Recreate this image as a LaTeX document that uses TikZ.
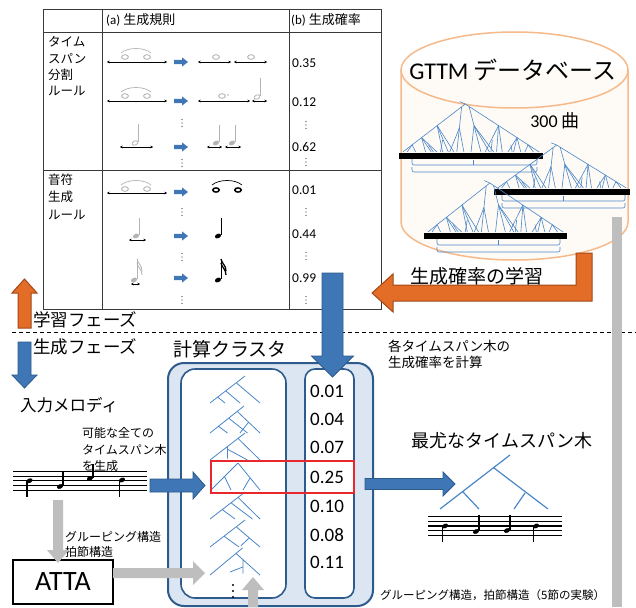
\documentclass[tikz,border=0pt]{standalone}
\usepackage{fontspec}
\setmainfont{Carlito}
\newfontfamily\jp{Noto Sans CJK JP}
\usetikzlibrary{arrows.meta}
\definecolor{barblue}{HTML}{3F76B6}
\definecolor{bardark}{HTML}{2D5B8C}
\definecolor{clfill}{HTML}{DCE6F2}
\definecolor{treeblue}{HTML}{4A87C9}
\definecolor{orangef}{HTML}{E36C26}
\definecolor{oranged}{HTML}{A04A18}
\definecolor{greyar}{HTML}{BEBEBE}
\definecolor{cylfill}{HTML}{FEFAF5}
\definecolor{cyledge}{HTML}{F6B98A}
\definecolor{redbox}{HTML}{E8282C}
\definecolor{notegrey}{HTML}{B4B4B4}
\definecolor{tblline}{HTML}{3A3A3A}

\newcommand{\hblock}[7]{\path[#1] ({#2},{#5-#6}) -- ({#4},{#5-#6}) -- ({#4},{#5-#7}) -- ({#3},{#5}) -- ({#4},{#5+#7}) -- ({#4},{#5+#6}) -- ({#2},{#5+#6}) -- cycle;}
\newcommand{\vblock}[7]{\path[#1] ({#2-#6},{#3}) -- ({#2+#6},{#3}) -- ({#2+#6},{#5}) -- ({#2+#7},{#5}) -- ({#2},{#4}) -- ({#2-#7},{#5}) -- ({#2-#6},{#5}) -- cycle;}
\newcommand{\tdots}[2]{\fill[tblline] ({#1},{#2-3.5}) circle[radius=0.55] ({#1},{#2}) circle[radius=0.55] ({#1},{#2+3.5}) circle[radius=0.55];}
\newcommand{\gwhole}[2]{\draw[notegrey, line width=0.9] ({#1},{#2}) ellipse[x radius=3.4, y radius=2.3];}
\newcommand{\bwhole}[2]{\draw[black, line width=1.5] ({#1},{#2}) ellipse[x radius=3.2, y radius=2.1];}
\newcommand{\tiearc}[4]{\draw[#1, line width=0.7] ({#2},{#4}) .. controls ({#2+7},{#4-6}) and ({#3-7},{#4-6}) .. ({#3},{#4});}
\newcommand{\nhead}[3]{\fill[#1, rotate around={25:({#2},{#3})}] ({#2},{#3}) ellipse[x radius=3.2, y radius=2.2];}
\newcommand{\hhead}[3]{\draw[#1, line width=0.8, rotate around={25:({#2},{#3})}] ({#2},{#3}) ellipse[x radius=3.1, y radius=2.0];}
\newcommand{\dbtree}[8]{%
\begin{scope}[shift={(#1,#2)}, xscale=#3, yscale=#4]
 \draw[tline] (0.46,0) -- (0.02,1) (0.46,0) -- (0.98,1) (0.434,0.06) -- (0.40,1) (0.486,0.05) -- (0.57,1) (0.46,0) -- (0.42,-0.05);
 \foreach \pu/\pv/\leaves in {0.262/0.45/{0.30,0.34,0.38}, 0.152/0.7/{0.18,0.22,0.26}, 0.086/0.85/{0.11,0.05},
    0.418/0.5/{0.35,0.45}, 0.521/0.45/{0.50,0.63,0.66}, 0.694/0.45/{0.60,0.68,0.72},
    0.824/0.7/{0.76,0.80,0.85}, 0.902/0.85/{0.88,0.94}}
   {\foreach \lu in \leaves {\draw[tline] (\pu,\pv) -- (\lu,1);}}
 \foreach \pu/\pv/\lu in {0.30/0.75/0.285, 0.20/0.85/0.235, 0.65/0.75/0.64, 0.78/0.85/0.79}
   {\draw[tline] (\pu,\pv) -- (\lu,1);}
\end{scope}
\draw[line width=5.5] ({#1-1},{#5}) -- ({#1+#3+1},{#5});
\draw[tline, rounded corners=2] ({#6},{#5+3}) -- ({#6},{#5+9}) -- ({#8},{#5+9}) -- ({#8},{#5+3});
\draw[tline] ({#7},{#5+9}) -- ({#7},{#5+4});
\draw[tline, rounded corners=2] ({#6},{#5+11}) -- ({#6},{#5+16}) -- ({#8},{#5+16}) -- ({#8},{#5+11});
}

\begin{document}
\begin{tikzpicture}[x=1pt, y=-1pt,
  jptext/.style={inner sep=0, font=\jp\fontsize{#1}{#1}\selectfont},
  lattext/.style={inner sep=0, font=\fontsize{#1}{#1}\selectfont},
  dbl/.style={{Stealth[length=2.6pt,width=2.6pt]}-{Stealth[length=2.6pt,width=2.6pt]}, line width=0.6},
  smallar/.style={fill=barblue},
  bluear/.style={fill=barblue, draw=bardark, line width=0.8},
  greyblock/.style={fill=greyar},
  orangear/.style={fill=orangef, draw=oranged, line width=1},
  tline/.style={draw=treeblue, line width=0.6},
  ctl/.style={draw=treeblue, line width=0.8},
]
\useasboundingbox (0,0) rectangle (636,607);
\fill[white] (0,0) rectangle (636,607);

% ---------------- table ----------------
\draw[tblline, line width=0.9] (43,9) rectangle (381,309);
\draw[tblline, line width=0.9] (102,9) -- (102,309) (289,9) -- (289,309) (43,32) -- (381,32) (43,170) -- (381,170);
\node[lattext=13, anchor=west] (ha) at (106,20) {(a) {\jp 生成規則}};
\node[lattext=13, anchor=west] (hb) at (291,20) {(b) {\jp 生成確率}};
\node[jptext=12.5, anchor=west] (r1a) at (48,42) {タイム};
\node[jptext=12.5, anchor=west] (r1b) at (48,59) {スパン};
\node[jptext=12.5, anchor=west] (r1c) at (48,75) {分割};
\node[jptext=12.5, anchor=west] (r1d) at (48,91) {ルール};
\node[jptext=12.5, anchor=west] (r2a) at (48,180) {音符};
\node[jptext=12.5, anchor=west] (r2b) at (48,197) {生成};
\node[jptext=12.5, anchor=west] (r2c) at (48,215) {ルール};
\foreach \val/\yy [count=\i] in {0.35/63,0.12/102,0.62/147,0.01/190,0.44/234,0.99/278}
  \node[lattext=13.5, anchor=west] (q\i) at (292,\yy) {\val};
\tdots{306}{125}\tdots{306}{162}\tdots{306}{212}\tdots{306}{256}\tdots{306}{300}
\tdots{182}{123}\tdots{182}{163}\tdots{182}{212}\tdots{182}{257}\tdots{182}{300}

% row 1
\draw[dbl] (107,62) -- (167,62);
\gwhole{125}{57}\gwhole{147}{57}\tiearc{notegrey}{121}{151}{53}
\hblock{smallar}{174}{188}{182}{62}{2.2}{4.6}
\draw[dbl] (198,62) -- (231,62); \draw[dbl] (234,62) -- (267,62);
\gwhole{216}{57}\gwhole{251}{57}
% row 2
\draw[dbl] (107,101) -- (167,101);
\gwhole{125}{96}\gwhole{147}{96}\tiearc{notegrey}{121}{151}{92}
\hblock{smallar}{174}{188}{182}{101}{2.2}{4.6}
\draw[dbl] (198,101) -- (250,101); \draw[dbl] (252,101) -- (267,101);
\gwhole{222}{96}\fill[notegrey] (228,95) circle[radius=0.8];
\hhead{notegrey}{257}{97}\draw[notegrey, line width=0.7] (260,96) -- (260,78);
% row 3
\draw[dbl] (120,147) -- (153,147);
\hhead{notegrey}{135}{143}\draw[notegrey, line width=0.7] (138,142) -- (138,124);
\hblock{smallar}{174}{188}{182}{147}{2.2}{4.6}
\draw[dbl] (207,147) -- (222,147); \draw[dbl] (225,147) -- (241,147);
\nhead{notegrey}{216}{143}\draw[notegrey, line width=0.7] (219,142) -- (219,125);
\nhead{notegrey}{232}{143}\draw[notegrey, line width=0.7] (235,142) -- (235,125);
% row 4
\draw[dbl] (107,193) -- (167,193);
\gwhole{125}{189}\gwhole{147}{189}\tiearc{notegrey}{121}{151}{185}
\hblock{smallar}{174}{188}{182}{192}{2.2}{4.6}
\bwhole{216}{190}\bwhole{238}{190}\tiearc{black}{212}{242}{185}
% row 5
\draw[dbl] (129,240) -- (146,240);
\nhead{notegrey}{136}{236}\draw[notegrey, line width=0.7] (139,235) -- (139,218);
\hblock{smallar}{174}{188}{182}{236}{2.2}{4.6}
\nhead{black}{218}{236}\draw[black, line width=0.9] (221,235) -- (221,218);
% row 6
\draw[dbl] (131,284) -- (140,284);
\nhead{notegrey}{134}{280}\draw[notegrey, line width=0.7] (137,279) -- (137,259);
\draw[notegrey, line width=0.8] (137,259) .. controls (138,264) and (142,265) .. (142,271);
\draw[notegrey, line width=0.8] (137,263) .. controls (138,268) and (142,269) .. (142,275);
\hblock{smallar}{174}{188}{182}{278}{2.2}{4.6}
\nhead{black}{218}{280}\draw[black, line width=0.9] (221,279) -- (221,259);
\draw[black, line width=1.3] (221,259) .. controls (222,264) and (226,265) .. (226,271);
\draw[black, line width=1.3] (221,263) .. controls (222,268) and (226,269) .. (226,275);

% ---------------- database cylinder ----------------
\path[fill=cylfill, draw=cyledge, line width=1.5] (401,70) -- (401,222) arc[start angle=180, end angle=0, x radius=113.5, y radius=38] -- (628,70);
\draw[cyledge, line width=1.5] (514.5,70) ellipse[x radius=113.5, y radius=38];
\node[lattext=24] (dbtitle) at (513,70) {GTTM {\jp データベース}};
\node[lattext=18] (songs) at (555,121) {300 {\jp 曲}};
\dbtree{400}{104}{142}{48}{156}{412}{473}{537}
\dbtree{495}{145}{134}{43}{192}{502}{563}{625}
\dbtree{425}{183}{141}{49}{236}{437}{498}{560}

% grey bar on right
\fill[greyar] (612,217) rectangle (622,607);
% orange learning arrow
\path[orangear] (576,253) -- (592,253) -- (592,301) -- (393,301) -- (393,312) -- (372,293) -- (393,274) -- (393,285) -- (576,285) -- cycle;
\node[jptext=19] (learn) at (477,276) {生成確率の学習};

% ---------------- phases ----------------
\draw[dash pattern=on 4pt off 3pt, line width=0.8] (12,332) -- (636,332);
\fill[greyar] (612,325) rectangle (622,340);
\vblock{orangear}{24.5}{328}{279}{293}{6.5}{12.5}
\vblock{bluear}{24.5}{342}{388}{375}{6.5}{12.5}
\node[jptext=17.5, anchor=west] (lp) at (33,320) {学習フェーズ};
\node[jptext=17.5, anchor=west] (gp) at (33,347) {生成フェーズ};
\node[jptext=16.5, anchor=west] (inmel) at (20,405) {入力メロディ};
\node[jptext=19] (cltitle) at (230,349) {計算クラスタ};
\node[jptext=13.5, anchor=west] (calc1) at (388,346) {各タイムスパン木の};
\node[jptext=13.5, anchor=west] (calc2) at (388,362) {生成確率を計算};
\node[jptext=12, anchor=west] (all1) at (82,433) {可能な全ての};
\node[jptext=12, anchor=west] (all2) at (82,450) {タイムスパン木};
\node[jptext=12, anchor=west] (all3) at (82,466) {を生成};
\node[jptext=12, anchor=west] (grp1) at (65,537) {グルーピング構造};
\node[jptext=12, anchor=west] (grp2) at (65,552) {拍節構造};
\node[jptext=11.5, anchor=west] (grp3) at (380,595) {グルーピング構造，拍節構造（5節の実験）};
\node[jptext=18] (best) at (502,441) {最尤なタイムスパン木};

% ---------------- input staff ----------------
\foreach \k in {0,...,4} \draw[line width=1.1] (13,{471.7+4.6*\k}) -- (147,{471.7+4.6*\k});
\nhead{black}{29.5}{480.7}\draw[line width=1.2] (27,481) -- (27,497);
\nhead{black}{60}{486.5}\draw[line width=1.2] (63,486) -- (63,472);
\nhead{black}{90}{478.3}\draw[line width=1.2] (93,478) -- (93,464);
\nhead{black}{122}{480}\draw[line width=1.2] (119.5,480) -- (119.5,497);

% ---------------- ATTA ----------------
\node[draw, line width=1.3, minimum width=100, minimum height=44, inner sep=0, font=\fontsize{28}{30}\selectfont] (atta) at (63,582) {ATTA};
\vblock{greyblock}{58}{500}{563}{550}{5}{11}

% ---------------- cluster ----------------
\draw[fill=clfill, draw=bardark, line width=2, rounded corners=16] (168,363) rectangle (373,606);
\draw[fill=white, draw=bardark, line width=1.6, rounded corners=14] (181,369) rectangle (286,598);
\draw[fill=white, draw=bardark, line width=1.6, rounded corners=10] (305,369) rectangle (354,598);
\foreach \val/\yy [count=\i] in {0.01/391,0.04/419,0.07/447,0.25/477,0.10/506,0.08/535,0.11/562}
  \node[lattext=19, anchor=west] (p\i) at (310,\yy) {\val};
% small trees
\begin{scope}[shift={(210,376)}, xscale=50, yscale=27]
 \draw[ctl] (0.7,0) -- (0,1) (0.525,0.25) -- (1,1) (0.315,0.55) -- (0.6,1) (0.154,0.78) -- (0.3,1);
\end{scope}
\begin{scope}[shift={(210,406)}, xscale=50, yscale=27]
 \draw[ctl] (0.68,0) -- (0,1) (0.544,0.2) -- (1,1) (0.374,0.45) -- (0.75,1) (0.17,0.75) -- (0.35,1) (0.772,0.6) -- (0.6,1);
\end{scope}
\begin{scope}[shift={(210,433)}, xscale=50, yscale=27]
 \draw[ctl] (0.7,0) -- (0,1) (0.56,0.2) -- (1,1) (0.35,0.5) -- (0.35,0.95) (0.35,0.6) -- (0.75,1);
\end{scope}
\begin{scope}[shift={(210,463)}, xscale=50, yscale=27]
 \draw[ctl] (0.56,0) -- (0.02,1) (0.56,0) -- (1,1) (0.29,0.5) -- (0.42,1) (0.802,0.55) -- (0.66,1);
\end{scope}
\begin{scope}[shift={(210,492)}, xscale=50, yscale=27]
 \draw[ctl] (0.7,0) -- (0,1) (0.56,0.2) -- (1,1) (0.42,0.4) -- (0.85,1) (0.245,0.65) -- (0.5,1);
\end{scope}
\begin{scope}[shift={(210,520)}, xscale=50, yscale=27]
 \draw[ctl] (0.7,0) -- (0,1) (0.525,0.25) -- (1,1) (0.28,0.6) -- (0.58,1) (0.786,0.66) -- (0.62,0.95);
\end{scope}
\begin{scope}[shift={(210,548)}, xscale=50, yscale=27]
 \draw[ctl] (0.65,0) -- (0,1) (0.52,0.2) -- (1,1) (0.66,0.43) -- (0.66,0.95) (0.4,0.89) -- (0.66,0.7);
\end{scope}
\fill (233,585) circle[radius=1.2] (233,591) circle[radius=1.2] (233,597) circle[radius=1.2];
\draw[redbox, line width=1.5] (211,461) rectangle (354,493);

% arrows into / out of cluster
\hblock{bluear}{150}{205}{193}{485.5}{6.5}{13.5}
\hblock{greyblock}{113}{205}{193}{573}{5}{12}
\vblock{greyblock}{253}{607}{577}{590}{5}{11}
\vblock{bluear}{332.5}{273}{377}{356}{10.5}{21}
\hblock{bluear}{365}{455}{443}{484}{5.5}{12}

% ---------------- result ----------------
\draw[treeblue, line width=1.2] (510,455) -- (440,509) (494,468) -- (548,509) (463,492) -- (479,509) (525,493) -- (514,509);
\foreach \k in {0,...,4} \draw[line width=1.1] (428,{516.7+4.65*\k}) -- (562,{516.7+4.65*\k});
\nhead{black}{445}{526}\draw[line width=1.2] (442.5,526) -- (442.5,542);
\nhead{black}{476}{531.5}\draw[line width=1.2] (479,531) -- (479,515);
\nhead{black}{507}{530.5}\draw[line width=1.2] (510,530) -- (510,515);
\nhead{black}{536}{526}\draw[line width=1.2] (533.5,526) -- (533.5,542);
\end{tikzpicture}
\end{document}
